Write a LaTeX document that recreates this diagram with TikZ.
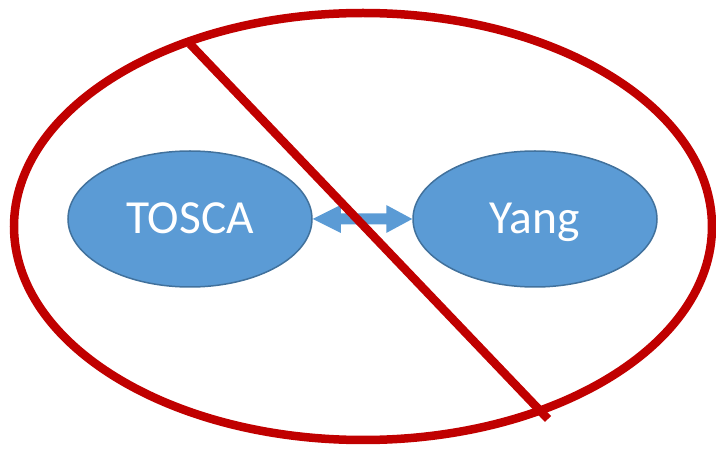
\documentclass[tikz,border=0pt]{standalone}
\usepackage{fontspec}
\setmainfont{Carlito}
\usetikzlibrary{shapes.geometric,calc}
\definecolor{ringred}{HTML}{C00000}
\definecolor{blobfill}{HTML}{5B9BD5}
\definecolor{blobline}{HTML}{41719C}
\begin{document}
\begin{tikzpicture}[x=1pt,y=-1pt,
  blob/.style={ellipse, fill=blobfill, draw=blobline, line width=1.5pt,
    minimum width=244pt, minimum height=136pt, inner sep=0pt,
    text=white, font=\fontsize{47.5}{52}\selectfont,
    text height=30pt, text depth=0pt},
  slash/.style={draw=ringred, line width=8.5pt}]
\useasboundingbox (0,0) rectangle (716,449);
% outer crossed-out ring
\draw[slash] (363,226.5) ellipse [x radius=349pt, y radius=213.5pt];
% the two blobs
\node[blob] (tosca) at (190,219) {TOSCA};
\node[blob] (yang) at (535,219) {Yang};
% block double arrow between them
\fill[blobfill] (tosca.east)
  -- ($(tosca.east)+(28,-14)$) -- ($(tosca.east)+(28,-5.5)$)
  -- ($(yang.west)+(-26,-5.5)$) -- ($(yang.west)+(-26,-14)$)
  -- (yang.west)
  -- ($(yang.west)+(-26,14)$) -- ($(yang.west)+(-26,5.5)$)
  -- ($(tosca.east)+(28,5.5)$) -- ($(tosca.east)+(28,14)$)
  -- cycle;
% diagonal strike
\coordinate (slashA) at (190,44);
\coordinate (slashB) at (548,419);
\draw[slash] (slashA) -- (slashB);
\end{tikzpicture}
\end{document}
